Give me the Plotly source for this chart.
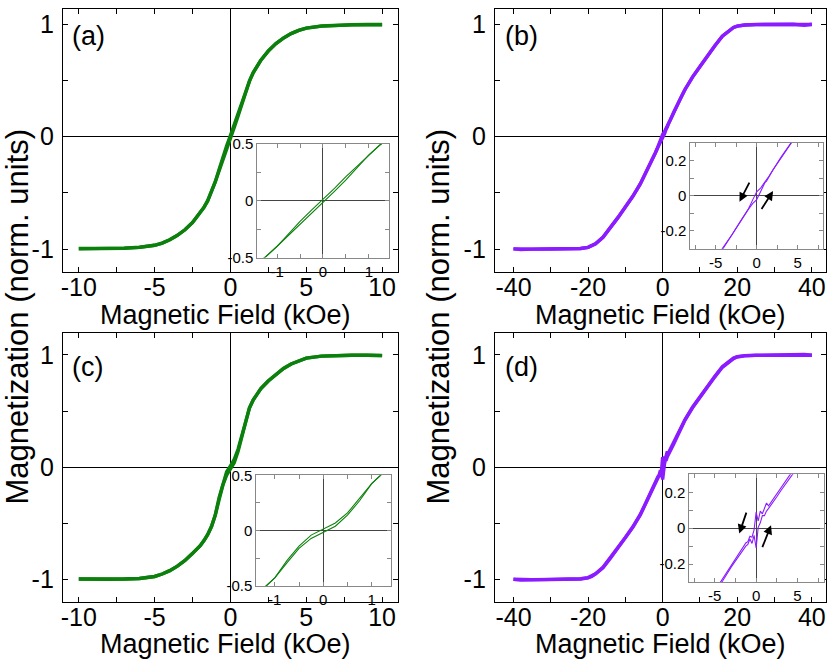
# HISTERESE - MAGNETIZACAO NORMALIZADA (4 paineis + insets)

import plotly.graph_objects as go

# campo (kOe) dos paineis (a) e (c)
campo_ac = [-10, -9, -8, -7, -6, -5, -4.5, -4, -3.5, -3, -2.5, -2, -1.75, -1.5, -1.25, -1,
            -0.75, -0.5, -0.25, 0, 0.25, 0.5, 0.75, 1, 1.25, 1.5, 1.75, 2, 2.5, 3, 3.5, 4,
            4.5, 5, 6, 7, 8, 9, 10]

# (a) ramo descendo / subindo
desce_a = [-0.995, -0.996, -0.995, -0.991, -0.984, -0.966, -0.946, -0.917, -0.878, -0.828,
           -0.764, -0.680, -0.630, -0.571, -0.494, -0.402, -0.292, -0.182, -0.082, 0.012,
           0.108, 0.212, 0.304, 0.400, 0.492, 0.568, 0.629, 0.679, 0.763, 0.828, 0.877,
           0.917, 0.946, 0.966, 0.985, 0.992, 0.996, 0.998, 0.998]
sobe_a = [-0.998, -0.998, -0.996, -0.992, -0.985, -0.966, -0.946, -0.917, -0.877, -0.828,
          -0.763, -0.679, -0.629, -0.568, -0.492, -0.400, -0.304, -0.212, -0.108, -0.012,
          0.082, 0.182, 0.292, 0.402, 0.494, 0.571, 0.630, 0.680, 0.764, 0.828, 0.878,
          0.917, 0.946, 0.966, 0.984, 0.991, 0.995, 0.996, 0.995]

# (c)
desce_c = [-0.994, -0.997, -0.997, -0.995, -0.990, -0.972, -0.950, -0.920, -0.880, -0.830,
           -0.770, -0.700, -0.655, -0.600, -0.530, -0.425, -0.270, -0.140, -0.040, 0.012,
           0.070, 0.160, 0.290, 0.425, 0.525, 0.598, 0.652, 0.698, 0.768, 0.829, 0.880,
           0.920, 0.950, 0.972, 0.990, 0.995, 0.997, 0.997, 0.995]
sobe_c = [-0.995, -0.997, -0.997, -0.995, -0.990, -0.972, -0.950, -0.920, -0.880, -0.829,
          -0.768, -0.698, -0.652, -0.598, -0.525, -0.425, -0.290, -0.160, -0.070, -0.012,
          0.040, 0.140, 0.270, 0.425, 0.530, 0.600, 0.655, 0.700, 0.770, 0.830, 0.880,
          0.920, 0.950, 0.972, 0.990, 0.995, 0.997, 0.997, 0.994]

# campo (kOe) do painel (b)
campo_b = [-40, -38, -35, -30, -25, -22, -20, -19, -18, -16, -14, -12, -10, -8, -6, -5, -4,
           -3, -2, -1.5, -1.2, -1, -0.5, 0, 0.5, 1, 1.2, 1.5, 2, 3, 4, 5, 6, 8, 10, 12, 14,
           16, 18, 19, 20, 22, 25, 30, 35, 38, 40]
desce_b = [-0.998, -1.0, -1.0, -0.999, -0.997, -0.994, -0.984, -0.972, -0.952, -0.895, -0.81,
           -0.72, -0.625, -0.53, -0.42, -0.355, -0.292, -0.22, -0.147, -0.11, -0.083, -0.074,
           -0.025, 0.022, 0.045, 0.076, 0.094, 0.11, 0.147, 0.22, 0.292, 0.355, 0.42, 0.53,
           0.625, 0.72, 0.81, 0.895, 0.952, 0.972, 0.984, 0.994, 0.998, 0.999, 1.0, 1.003, 0.998]
sobe_b = [-0.998, -1.003, -1.0, -0.999, -0.998, -0.994, -0.984, -0.972, -0.952, -0.895, -0.81,
          -0.72, -0.625, -0.53, -0.42, -0.355, -0.292, -0.22, -0.147, -0.11, -0.09, -0.076,
          -0.045, -0.022, 0.025, 0.074, 0.083, 0.11, 0.147, 0.22, 0.292, 0.355, 0.42, 0.53,
          0.625, 0.72, 0.81, 0.895, 0.952, 0.972, 0.984, 0.994, 0.997, 0.999, 1.0, 0.99, 1.0]

# campo (kOe) do painel (d)
campo_d = [-40, -38, -35, -30, -25, -22, -20, -19, -18, -16, -14, -12, -10, -8, -6, -5, -4,
           -3, -2.5, -2, -1.5, -1.25, -1, -0.75, -0.5, -0.25, 0, 0.25, 0.5, 0.75, 1, 1.25,
           1.5, 2, 2.5, 3, 4, 5, 6, 8, 10, 12, 14, 16, 18, 19, 20, 22, 25, 30, 35, 38, 40]
desce_d = [-0.997, -0.999, -1.0, -0.998, -0.996, -0.992, -0.982, -0.968, -0.948, -0.89, -0.805,
           -0.715, -0.625, -0.53, -0.42, -0.35, -0.275, -0.205, -0.17, -0.135, -0.105, -0.082,
           -0.075, -0.045, -0.05, -0.01, 0.09, 0.04, 0.095, 0.08, 0.11, 0.14, 0.125, 0.16,
           0.19, 0.225, 0.295, 0.36, 0.425, 0.535, 0.63, 0.72, 0.81, 0.895, 0.95, 0.972,
           0.985, 0.994, 0.997, 1.0, 1.002, 1.004, 0.998]
sobe_d = [-0.998, -1.004, -1.002, -1.0, -0.997, -0.994, -0.985, -0.972, -0.95, -0.895, -0.81,
          -0.72, -0.63, -0.535, -0.425, -0.36, -0.29, -0.215, -0.18, -0.15, -0.115, -0.1,
          -0.09, -0.06, -0.085, -0.04, -0.11, 0.005, 0.03, 0.07, 0.07, 0.095, 0.11, 0.14,
          0.175, 0.21, 0.28, 0.35, 0.42, 0.53, 0.625, 0.715, 0.805, 0.89, 0.948, 0.968, 0.982,
          0.992, 0.996, 0.998, 1.0, 0.999, 0.997]

# marcas e rotulos (hifen simples, como no original)
ticks_ac = [-10, -5, 0, 5, 10]
rot_ac = ['-10', '-5', '0', '5', '10']
ticks_bd = [-40, -20, 0, 20, 40]
rot_bd = ['-40', '-20', '0', '20', '40']
ticks_m = [-1, 0, 1]
rot_m = ['-1', '0', '1']
ticks_in_ac = [-1, 0, 1]
rot_in_ac = ['-1', '0', '1']
ticks_in_m_ac = [-0.5, 0, 0.5]
rot_in_m_ac = ['-0.5', '0', '0.5']
ticks_in_bd = [-5, 0, 5]
rot_in_bd = ['-5', '0', '5']
ticks_in_m_bd = [-0.2, 0, 0.2]
rot_in_m_bd = ['-0.2', '0', '0.2']

VERDE = 'rgb(12,128,12)'
ROXO = 'rgb(139,28,255)'
FONTE = 'Liberation Sans, Arial, sans-serif'

fig = go.Figure()

paineis = [
    (campo_ac, desce_a, sobe_a, VERDE, '', '5'),
    (campo_b, desce_b, sobe_b, ROXO, '2', '6'),
    (campo_ac, desce_c, sobe_c, VERDE, '3', '7'),
    (campo_d, desce_d, sobe_d, ROXO, '4', '8'),
]
for campo, desce, sobe, cor, eixo, eixo_in in paineis:
    for ramo in (desce, sobe):
        fig.add_trace(go.Scatter(x=campo, y=ramo, mode='lines', showlegend=False,
                                 line=dict(color=cor, width=3.4),
                                 xaxis='x' + eixo, yaxis='y' + eixo))
    for ramo in (desce, sobe):
        fig.add_trace(go.Scatter(x=campo, y=ramo, mode='lines', showlegend=False,
                                 line=dict(color=cor, width=1.1),
                                 xaxis='x' + eixo_in, yaxis='y' + eixo_in))


def eixo_principal(dom, ancora, faixa, vals, textos, minor, standoff):
    return dict(domain=dom, anchor=ancora, range=faixa, tickmode='array',
                tickvals=vals, ticktext=textos,
                showgrid=False, zeroline=True, zerolinecolor='black',
                zerolinewidth=1, showline=True, linecolor='black', linewidth=1,
                mirror='ticks', ticks='inside', ticklen=5, tickcolor='black',
                minor=dict(dtick=minor, tick0=0, ticks='inside', ticklen=5,
                           tickcolor='black', showgrid=False),
                ticklabelstandoff=standoff,
                tickfont=dict(family=FONTE, size=25, color='black'))


def eixo_inset(dom, ancora, faixa, vals, textos, minor):
    return dict(domain=dom, anchor=ancora, range=faixa, tickmode='array',
                tickvals=vals, ticktext=textos,
                showgrid=False, zeroline=True, zerolinecolor='#444444',
                zerolinewidth=1, showline=True, linecolor='#888888', linewidth=1,
                mirror='ticks', ticks='inside', ticklen=4, tickcolor='#888888',
                minor=dict(dtick=minor, tick0=0, ticks='inside', ticklen=4,
                           tickcolor='#888888', showgrid=False),
                ticklabelstandoff=0,
                tickfont=dict(family=FONTE, size=15, color='black'))


W, H = 831, 665
# a captura da janela sai com 8 px em cima e achatada na vertical (649/665):
# as posicoes abaixo sao em pixels da imagem e ja descontam isso
ACH = 649 / 665
TOPO = 8


def fy(y):
    return min(max((y - TOPO) / ACH, 0), H)


def px_x(a, b):
    return [a / W, b / W]


def px_y(topo, base):
    return [1 - fy(base) / H, 1 - fy(topo) / H]


def pap_y(y):
    return 1 - fy(y) / H


# o topo dos paineis de cima fica 8 px abaixo; corta-se a faixa em 1.136
faixa_sup = [-1.2, 1.136]
faixa_inf = [-1.2, 1.2]

fig.update_layout(
    width=W, height=H,
    margin=dict(l=0, r=0, t=0, b=0),
    paper_bgcolor='white', plot_bgcolor='white',
    font=dict(family=FONTE, color='black'),
    xaxis=eixo_principal(px_x(61, 397), 'y', [-11.05, 11.05], ticks_ac, rot_ac, 2.5, -7),
    yaxis=eixo_principal(px_y(8, 271), 'x', faixa_sup, ticks_m, rot_m, 0.5, 3),
    xaxis2=eixo_principal(px_x(494, 826), 'y2', [-45, 43.8], ticks_bd, rot_bd, 10, -7),
    yaxis2=eixo_principal(px_y(8, 271), 'x2', faixa_sup, ticks_m, rot_m, 0.5, 3),
    xaxis3=eixo_principal(px_x(61, 397), 'y3', [-11.05, 11.05], ticks_ac, rot_ac, 2.5, -7),
    yaxis3=eixo_principal(px_y(332, 602), 'x3', faixa_inf, ticks_m, rot_m, 0.5, 3),
    xaxis4=eixo_principal(px_x(494, 826), 'y4', [-45, 43.8], ticks_bd, rot_bd, 10, -7),
    yaxis4=eixo_principal(px_y(332, 602), 'x4', faixa_inf, ticks_m, rot_m, 0.5, 3),
    xaxis5=eixo_inset(px_x(256, 388), 'y5', [-1.43, 1.44], ticks_in_ac, rot_in_ac, 0.5),
    yaxis5=eixo_inset(px_y(143, 257), 'x5', [-0.5, 0.5], ticks_in_m_ac, rot_in_m_ac, 0.25),
    xaxis6=eixo_inset(px_x(690, 823), 'y6', [-8.1, 8.1], ticks_in_bd, rot_in_bd, 2.5),
    yaxis6=eixo_inset(px_y(142, 248), 'x6', [-0.3, 0.3], ticks_in_m_bd, rot_in_m_bd, 0.1),
    xaxis7=eixo_inset(px_x(255, 390), 'y7', [-1.38, 1.4], ticks_in_ac, rot_in_ac, 0.5),
    yaxis7=eixo_inset(px_y(475, 586), 'x7', [-0.5, 0.5], ticks_in_m_ac, rot_in_m_ac, 0.25),
    xaxis8=eixo_inset(px_x(689, 824), 'y8', [-8.07, 8.2], ticks_in_bd, rot_in_bd, 2.5),
    yaxis8=eixo_inset(px_y(474, 582), 'x8', [-0.3, 0.3], ticks_in_m_bd, rot_in_m_bd, 0.1),
)

anot = []
# rotulos dos paineis
for txt, x, y in [('(a)', 68, 35), ('(b)', 502, 35), ('(c)', 68, 367), ('(d)', 502, 367)]:
    anot.append(dict(text=txt, x=x / W, y=pap_y(y), xref='paper', yref='paper',
                     xanchor='left', yanchor='middle', showarrow=False,
                     font=dict(family=FONTE, size=27, color='black')))
# titulos dos eixos x (o de baixo sobe um pouco para nao ser cortado)
for x, y in [(224, 314), (660, 314), (224, 644), (660, 644)]:
    anot.append(dict(text='Magnetic Field (kOe)', x=x / W, y=pap_y(y),
                     xref='paper', yref='paper', xanchor='center', yanchor='middle',
                     showarrow=False, font=dict(family=FONTE, size=27, color='black')))
# titulos dos eixos y
for x in (16, 438):
    anot.append(dict(text='Magnetization (norm. units)', x=x / W, y=pap_y(316),
                     xref='paper', yref='paper', xanchor='center', yanchor='middle',
                     textangle=-90, showarrow=False,
                     font=dict(family=FONTE, size=31, color='black')))
# setas dos insets (b) e (d): (ponta x, ponta y, cauda x, cauda y)
setas = [('6', -2.1, -0.034, -0.8, 0.083), ('6', 2.0, 0.026, 0.48, -0.084),
         ('8', -2.04, -0.03, -1.12, 0.095), ('8', 1.8, 0.017, 0.68, -0.114)]
for eixo, hx, hy, tx, ty in setas:
    anot.append(dict(text='', x=hx, y=hy, ax=tx, ay=ty, xref='x' + eixo, yref='y' + eixo,
                     axref='x' + eixo, ayref='y' + eixo, showarrow=True, arrowhead=2,
                     arrowsize=1, arrowwidth=1.8, arrowcolor='black'))
fig.update_layout(annotations=anot)

# pagina exatamente do tamanho da figura, sem margem nem rolagem
fixa = """
[document.documentElement, document.body].forEach(function(el){
    el.style.margin='0px'; el.style.padding='0px'; el.style.overflow='hidden';
});
var gd = document.getElementsByClassName('plotly-graph-div')[0];
gd.style.position='fixed'; gd.style.left='0px'; gd.style.top='0px';
"""
fig.write_html("out.html", config={'displayModeBar': False}, post_script=fixa)
